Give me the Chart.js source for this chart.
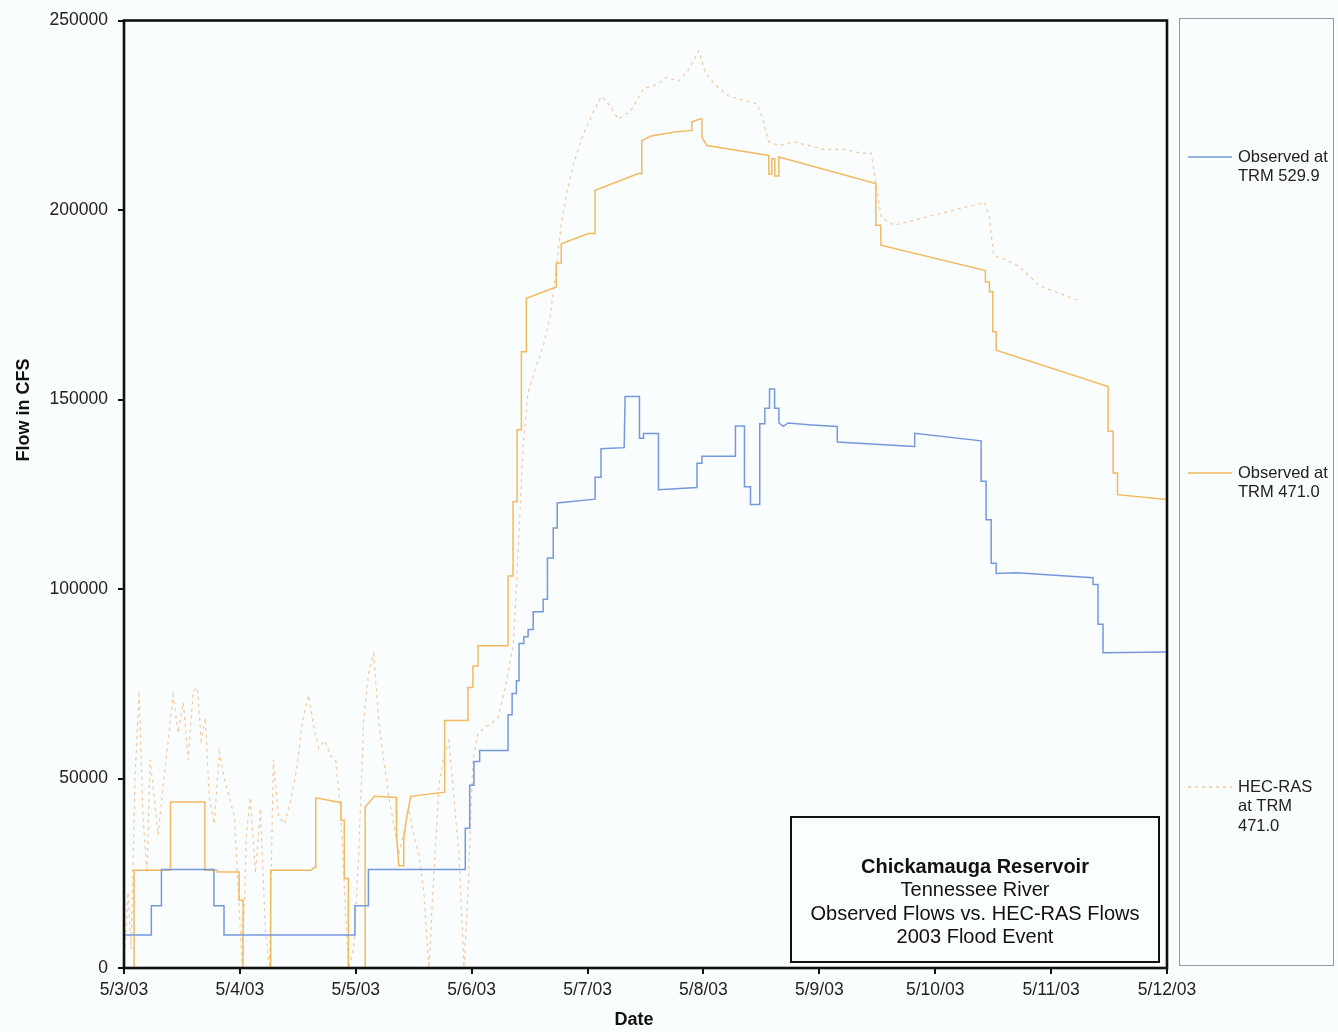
<!DOCTYPE html>
<html>
<head>
<meta charset="utf-8">
<title>Chickamauga Reservoir – 2003 Flood Event</title>
<script src="https://cdn.jsdelivr.net/npm/chart.js@4.4.1/dist/chart.umd.min.js"></script>
<style>
  html, body { margin: 0; padding: 0; background: #f9fdfd; }
  #wrap { position: relative; width: 1338px; height: 1032px; }
  canvas { display: block; }
</style>
</head>
<body>
<div id="wrap"><canvas id="flows" width="1338" height="1032"></canvas></div>
<script>
// ---- axis labels ----
const dateLabels = ['5/3/03', '5/4/03', '5/5/03', '5/6/03', '5/7/03', '5/8/03', '5/9/03', '5/10/03', '5/11/03', '5/12/03'];
const flowTicks = [0, 50000, 100000, 150000, 200000, 250000];

// ---- series names (legend lines) ----
const nameUpstream = ['Observed at', 'TRM 529.9'];
const nameDownstream = ['Observed at', 'TRM 471.0'];
const nameModel = ['HEC-RAS', 'at TRM', '471.0'];

// ---- Observed at TRM 529.9 : time (days after 5/3/03 00:00), flow (cfs) ----
const upDays = [0, 0.236, 0.236, 0.323, 0.323, 0.776, 0.776, 0.863, 0.863, 1.993, 1.993, 2.109, 2.109,
  2.945, 2.945, 2.983, 2.983, 3.020, 3.020, 3.069, 3.069, 3.314, 3.314, 3.349, 3.349, 3.386, 3.386,
  3.409, 3.409, 3.450, 3.450, 3.487, 3.487, 3.531, 3.531, 3.617, 3.617, 3.654, 3.654, 3.704, 3.704,
  3.738, 3.738, 4.065, 4.065, 4.116, 4.116, 4.316, 4.324, 4.448, 4.448, 4.483, 4.483, 4.612, 4.612,
  4.944, 4.944, 4.987, 4.987, 5.276, 5.276, 5.354, 5.354, 5.406, 5.406, 5.486, 5.486, 5.530, 5.530,
  5.570, 5.570, 5.614, 5.614, 5.651, 5.651, 5.690, 5.730, 5.936, 6.155, 6.155, 6.819, 6.823, 7.396,
  7.396, 7.439, 7.439, 7.483, 7.483, 7.526, 7.526, 7.699, 8.362, 8.362, 8.405, 8.405, 8.448, 8.448, 9.0];
const upFlow = [8700, 8700, 16400, 16400, 26000, 26000, 16400, 16400, 8700, 8700, 16400, 16400, 26000,
  26000, 36900, 36900, 48200, 48200, 54500, 54500, 57400, 57400, 66800, 66800, 72400, 72400, 75800,
  75800, 85600, 85600, 87400, 87400, 89300, 89300, 94000, 94000, 97300, 97300, 108200, 108200, 116100,
  116100, 122700, 123700, 129500, 129500, 137000, 137300, 150800, 150800, 139800, 139800, 141000, 141000, 126200,
  126800, 133200, 133200, 135000, 135000, 143000, 143000, 127000, 127000, 122300, 122300, 143600, 143600, 147700,
  147700, 152800, 152800, 147700, 147700, 143800, 142900, 143800, 143300, 142900, 138800, 137600, 141100, 139100,
  128400, 128400, 118300, 118300, 106800, 106800, 104100, 104300, 103000, 101200, 101200, 90700, 90700, 83200, 83400];

// ---- Observed at TRM 471.0 ----
const downDays = [0, 0.087, 0.087, 0.401, 0.401, 0.698, 0.698, 0.805, 0.805, 0.993, 0.993, 1.027, 1.027,
  1.266, 1.266, 1.612, 1.641, 1.655, 1.655, 1.843, 1.872, 1.872, 1.901, 1.901, 1.936, 1.936, 2.081, 2.081,
  2.161, 2.349, 2.352, 2.371, 2.414, 2.414, 2.440, 2.475, 2.767, 2.767, 2.968, 2.968, 3.011, 3.011, 3.055,
  3.055, 3.314, 3.314, 3.357, 3.357, 3.392, 3.392, 3.429, 3.429, 3.472, 3.472, 3.730, 3.730, 3.773, 3.773,
  4.007, 4.065, 4.065, 4.439, 4.468, 4.468, 4.55, 4.75, 4.900, 4.900, 4.973, 4.987, 4.987, 5.030, 5.564,
  5.564, 5.590, 5.590, 5.616, 5.616, 5.651, 5.651, 6.488, 6.488, 6.531, 6.531, 7.433, 7.433, 7.468, 7.468,
  7.497, 7.497, 7.526, 7.526, 8.492, 8.492, 8.535, 8.535, 8.573, 8.573, 9.0];
const downFlow = [0, 0, 25800, 25800, 43800, 43800, 25800, 25800, 25300, 25300, 17900, 17900, 0,
  0, 25800, 25800, 26500, 26500, 44900, 43800, 43800, 39000, 39000, 23600, 23600, 0, 0, 42500,
  45300, 45000, 35000, 27000, 27000, 34000, 40000, 45300, 46400, 65300, 65300, 74000, 74000, 79700, 79700,
  85000, 85000, 103400, 103400, 123000, 123000, 142000, 142000, 162600, 162600, 176700, 179700, 186000, 186000, 191100,
  193800, 193800, 205200, 209600, 209600, 218300, 219500, 220600, 221000, 223300, 224000, 224000, 219200, 217000, 214400,
  209500, 209500, 213500, 213500, 209000, 209000, 214000, 207000, 196000, 196000, 190700, 184000, 181000, 181000, 178400,
  178400, 167900, 167900, 163000, 153400, 141600, 141600, 130600, 130600, 124900, 123600];

// ---- HEC-RAS computed flow at TRM 471.0 ----
const modelDays = [0, 0.035, 0.061, 0.095, 0.130, 0.164, 0.199, 0.225, 0.260, 0.294, 0.337, 0.381, 0.424,
  0.467, 0.511, 0.554, 0.597, 0.632, 0.666, 0.701, 0.736, 0.779, 0.822, 0.865, 0.909, 0.952, 0.987, 1.021,
  1.056, 1.090, 1.134, 1.177, 1.220, 1.255, 1.289, 1.333, 1.385, 1.436, 1.488, 1.540, 1.592, 1.636, 1.679,
  1.731, 1.783, 1.826, 1.869, 1.904, 1.938, 1.982, 2.025, 2.068, 2.111, 2.155, 2.198, 2.241, 2.285, 2.328,
  2.371, 2.414, 2.458, 2.501, 2.544, 2.587, 2.631, 2.674, 2.717, 2.760, 2.804, 2.847, 2.890, 2.934, 2.968,
  3.011, 3.055, 3.141, 3.228, 3.297, 3.358,
  3.401, 3.444, 3.487, 3.548, 3.617, 3.678, 3.730, 3.773, 3.816, 3.877, 3.963, 4.050, 4.119, 4.180, 4.266,
  4.370, 4.483, 4.586, 4.682, 4.785, 4.872, 4.958, 5.019, 5.105, 5.218, 5.348, 5.460, 5.512, 5.564, 5.651,
  5.781, 5.911, 6.040, 6.213, 6.360, 6.447, 6.473, 6.534, 6.646, 6.776, 6.906, 7.035, 7.165, 7.295, 7.425,
  7.468, 7.503, 7.598, 7.728, 7.901, 8.074, 8.247];
const modelFlow = [0, 20000, 5000, 50000, 73000, 40000, 25000, 55000, 45000, 35000, 48000, 60000, 72000,
  62000, 70000, 55000, 73000, 74000, 60000, 66000, 45000, 38000, 57000, 50000, 45000, 40000, 20000, 0,
  35000, 45000, 25000, 42000, 10000, 0, 55000, 40000, 38000, 44000, 52000, 65000, 72000, 64000, 58000,
  60000, 56000, 55000, 42000, 20000, 0, 5000, 30000, 65000, 78000, 83000, 65000, 55000, 45000, 38000,
  30000, 36000, 42000, 35000, 30000, 20000, 0, 25000, 48000, 56000, 60000, 45000, 30000, 0, 20000,
  55000, 62000, 64000, 66000, 75000, 85000,
  110000, 138000, 152000, 158000, 164000, 172000, 185000, 196000, 204000, 212000, 220000, 226000, 230000, 228000, 224000,
  226000, 232000, 233000, 235000, 234000, 237000, 242000, 236000, 233000, 230000, 229000, 228000, 224000, 218000, 217000,
  218000, 217000, 216000, 216000, 215000, 215000, 210000, 198000, 196000, 197000, 198000, 199000, 200000, 201000, 202000,
  198000, 188000, 187000, 185000, 180000, 178000, 176000];

const pairs = (xs, ys) => xs.map((x, i) => ({ x, y: ys[i] }));

const BLUE = '#7598dd';
const ORANGE = '#f2b95f';
const MODEL = '#f4c69a';
const FONT = '"Liberation Sans", Arial, sans-serif';

// Paints the page colour behind everything
const backdrop = {
  id: 'backdrop',
  beforeDraw(chart) {
    const c = chart.ctx;
    c.save();
    c.fillStyle = '#f9fdfd';
    c.fillRect(0, 0, chart.width, chart.height);
    c.restore();
  }
};

// Heavy frame round the plot, axis titles, legend panel and caption box
const decorations = {
  id: 'decorations',
  afterDraw(chart) {
    const c = chart.ctx;
    const a = chart.chartArea;
    c.save();

    // plot frame
    c.strokeStyle = '#111';
    c.lineWidth = 2.6;
    c.strokeRect(a.left, a.top, a.right - a.left, a.bottom - a.top);

    // axis titles
    c.fillStyle = '#111';
    c.font = 'bold 18px ' + FONT;
    c.textAlign = 'center';
    c.textBaseline = 'middle';
    c.fillText('Date', 634, 1020);
    c.save();
    c.translate(24, 410);
    c.rotate(-Math.PI / 2);
    c.fillText('Flow in CFS', 0, 0);
    c.restore();

    // legend panel
    c.strokeStyle = '#8f9aab';
    c.lineWidth = 1;
    c.strokeRect(1179.5, 18.5, 154, 947);
    const entries = [
      { ds: chart.data.datasets[0], y: 157 },
      { ds: chart.data.datasets[1], y: 473 },
      { ds: chart.data.datasets[2], y: 787 }
    ];
    c.font = '16.5px ' + FONT;
    c.textAlign = 'left';
    entries.forEach(e => {
      c.strokeStyle = e.ds.borderColor;
      c.lineWidth = 1.4;
      c.setLineDash(e.ds.borderDash || []);
      c.beginPath();
      c.moveTo(1188, e.y);
      c.lineTo(1232, e.y);
      c.stroke();
      c.setLineDash([]);
      c.fillStyle = '#222';
      e.ds.label.forEach((line, i) => c.fillText(line, 1238, e.y + i * 19.7));
    });

    // caption box
    c.fillStyle = '#fbfefe';
    c.fillRect(791, 817, 368, 145);
    c.strokeStyle = '#111';
    c.lineWidth = 2;
    c.strokeRect(791, 817, 368, 145);
    c.fillStyle = '#111';
    c.textAlign = 'center';
    c.font = 'bold 20px ' + FONT;
    c.fillText('Chickamauga Reservoir', 975, 867);
    c.font = '20px ' + FONT;
    c.fillText('Tennessee River', 975, 890);
    c.fillText('Observed Flows vs. HEC-RAS Flows', 975, 914);
    c.fillText('2003 Flood Event', 975, 937);

    c.restore();
  }
};

new Chart(document.getElementById('flows'), {
  type: 'line',
  data: {
    datasets: [
      {
        label: nameUpstream,
        data: pairs(upDays, upFlow),
        borderColor: BLUE,
        borderWidth: 1.5,
        pointRadius: 0,
        tension: 0,
        fill: false
      },
      {
        label: nameDownstream,
        data: pairs(downDays, downFlow),
        borderColor: ORANGE,
        borderWidth: 1.5,
        pointRadius: 0,
        tension: 0,
        fill: false
      },
      {
        label: nameModel,
        data: pairs(modelDays, modelFlow),
        borderColor: MODEL,
        borderWidth: 1.2,
        borderDash: [3, 4],
        pointRadius: 0,
        tension: 0,
        fill: false
      }
    ]
  },
  options: {
    responsive: false,
    animation: false,
    events: [],
    layout: { padding: { left: 0, top: 18, right: 171, bottom: 0 } },
    plugins: {
      legend: { display: false },
      tooltip: { enabled: false },
      title: { display: false }
    },
    scales: {
      x: {
        type: 'linear',
        min: 0,
        max: dateLabels.length - 1,
        afterBuildTicks: s => { s.ticks = dateLabels.map((_, i) => ({ value: i })); },
        afterFit: s => { s.height = 64; },
        ticks: {
          callback: v => dateLabels[v],
          color: '#222',
          font: { family: FONT, size: 17.5 },
          maxRotation: 0,
          autoSkip: false,
          padding: 6
        },
        grid: { drawOnChartArea: false, drawTicks: true, tickLength: 6, color: '#111', lineWidth: 2 },
        border: { display: false }
      },
      y: {
        type: 'linear',
        min: flowTicks[0],
        max: flowTicks[flowTicks.length - 1],
        afterBuildTicks: s => { s.ticks = flowTicks.map(v => ({ value: v })); },
        afterFit: s => { s.width = 124; },
        ticks: {
          callback: v => String(v),
          color: '#222',
          font: { family: FONT, size: 17.5 },
          padding: 10
        },
        grid: { drawOnChartArea: false, drawTicks: true, tickLength: 6, color: '#111', lineWidth: 2 },
        border: { display: false }
      }
    }
  },
  plugins: [backdrop, decorations]
});
</script>
</body>
</html>
